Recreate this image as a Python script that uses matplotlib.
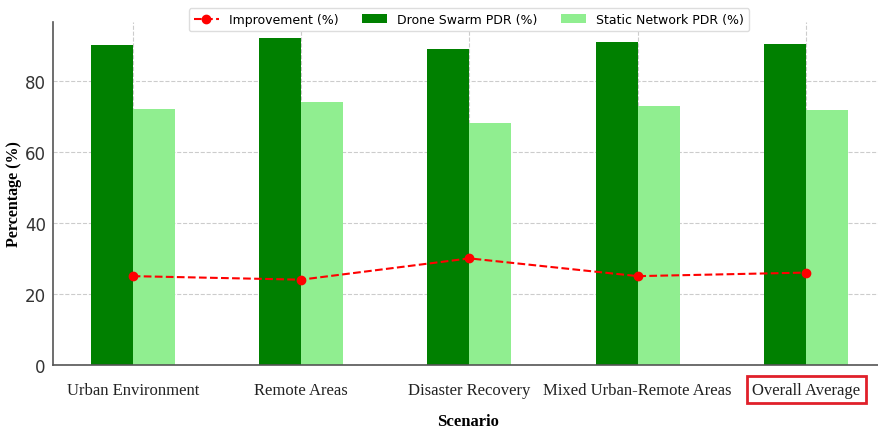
import matplotlib
matplotlib.use("Agg")
import matplotlib.pyplot as plt
import numpy as np

scenarios = ["Urban Environment", "Remote Areas", "Disaster Recovery",
             "Mixed Urban-Remote Areas", "Overall Average"]
drone_pdr = [90, 92, 89, 91, 90.5]
static_pdr = [72, 74, 68, 73, 71.75]
improvement = [25, 24, 30, 25, 26]

fig = plt.figure(figsize=(8.79, 4.31), dpi=100)
ax = fig.add_axes([0.060, 0.151, 0.948, 0.796])

x = np.arange(len(scenarios))
w = 0.25
ax.plot(x, improvement, "r--o", markersize=6, linewidth=1.5, label="Improvement (%)", zorder=3)
ax.bar(x - w/2, drone_pdr, w, color="green", label="Drone Swarm PDR (%)", zorder=2)
ax.bar(x + w/2, static_pdr, w, color="lightgreen", label="Static Network PDR (%)", zorder=2)

ax.grid(True, linestyle="--", color="#cccccc", linewidth=0.8, zorder=0)
ax.set_axisbelow(True)
for s in ["top", "right"]:
    ax.spines[s].set_visible(False)
ax.spines["left"].set_color("#555555")
ax.spines["bottom"].set_color("#555555")
ax.spines["left"].set_linewidth(1.2)
ax.spines["bottom"].set_linewidth(1.2)

ax.set_xticks(x)
ax.set_xticklabels(scenarios, fontfamily="Liberation Serif", fontsize=12, color="#222222")
ax.set_yticks([0, 20, 40, 60, 80])
ax.tick_params(axis="y", labelsize=12, colors="#333333", length=0, pad=5)
ax.tick_params(axis="x", length=0, pad=12)
ax.set_ylabel("Percentage (%)", fontfamily="Liberation Serif", fontweight="bold", fontsize=11.5)
ax.set_xlabel("Scenario", fontfamily="Liberation Serif", fontweight="bold", fontsize=12)
ax.yaxis.set_label_coords(-0.046, 0.5)
ax.xaxis.set_label_coords(0.498, -0.163)
ax.yaxis.label.set_va("center")
ax.xaxis.label.set_va("center")

lbl = ax.get_xticklabels()[-1]
lbl.set_bbox(dict(facecolor="none", edgecolor="#e0202a", linewidth=2, pad=4))

ax.set_xlim(-0.475, 4.475)
ax.set_ylim(0, 96.6)

ax.legend(loc="upper center", bbox_to_anchor=(0.4995, 1.058), ncol=3, fontsize=9,
          frameon=True, framealpha=1, edgecolor="#dddddd", fancybox=True,
          columnspacing=1.9, handlelength=2.0)

fig.savefig("out.png", dpi=100)
